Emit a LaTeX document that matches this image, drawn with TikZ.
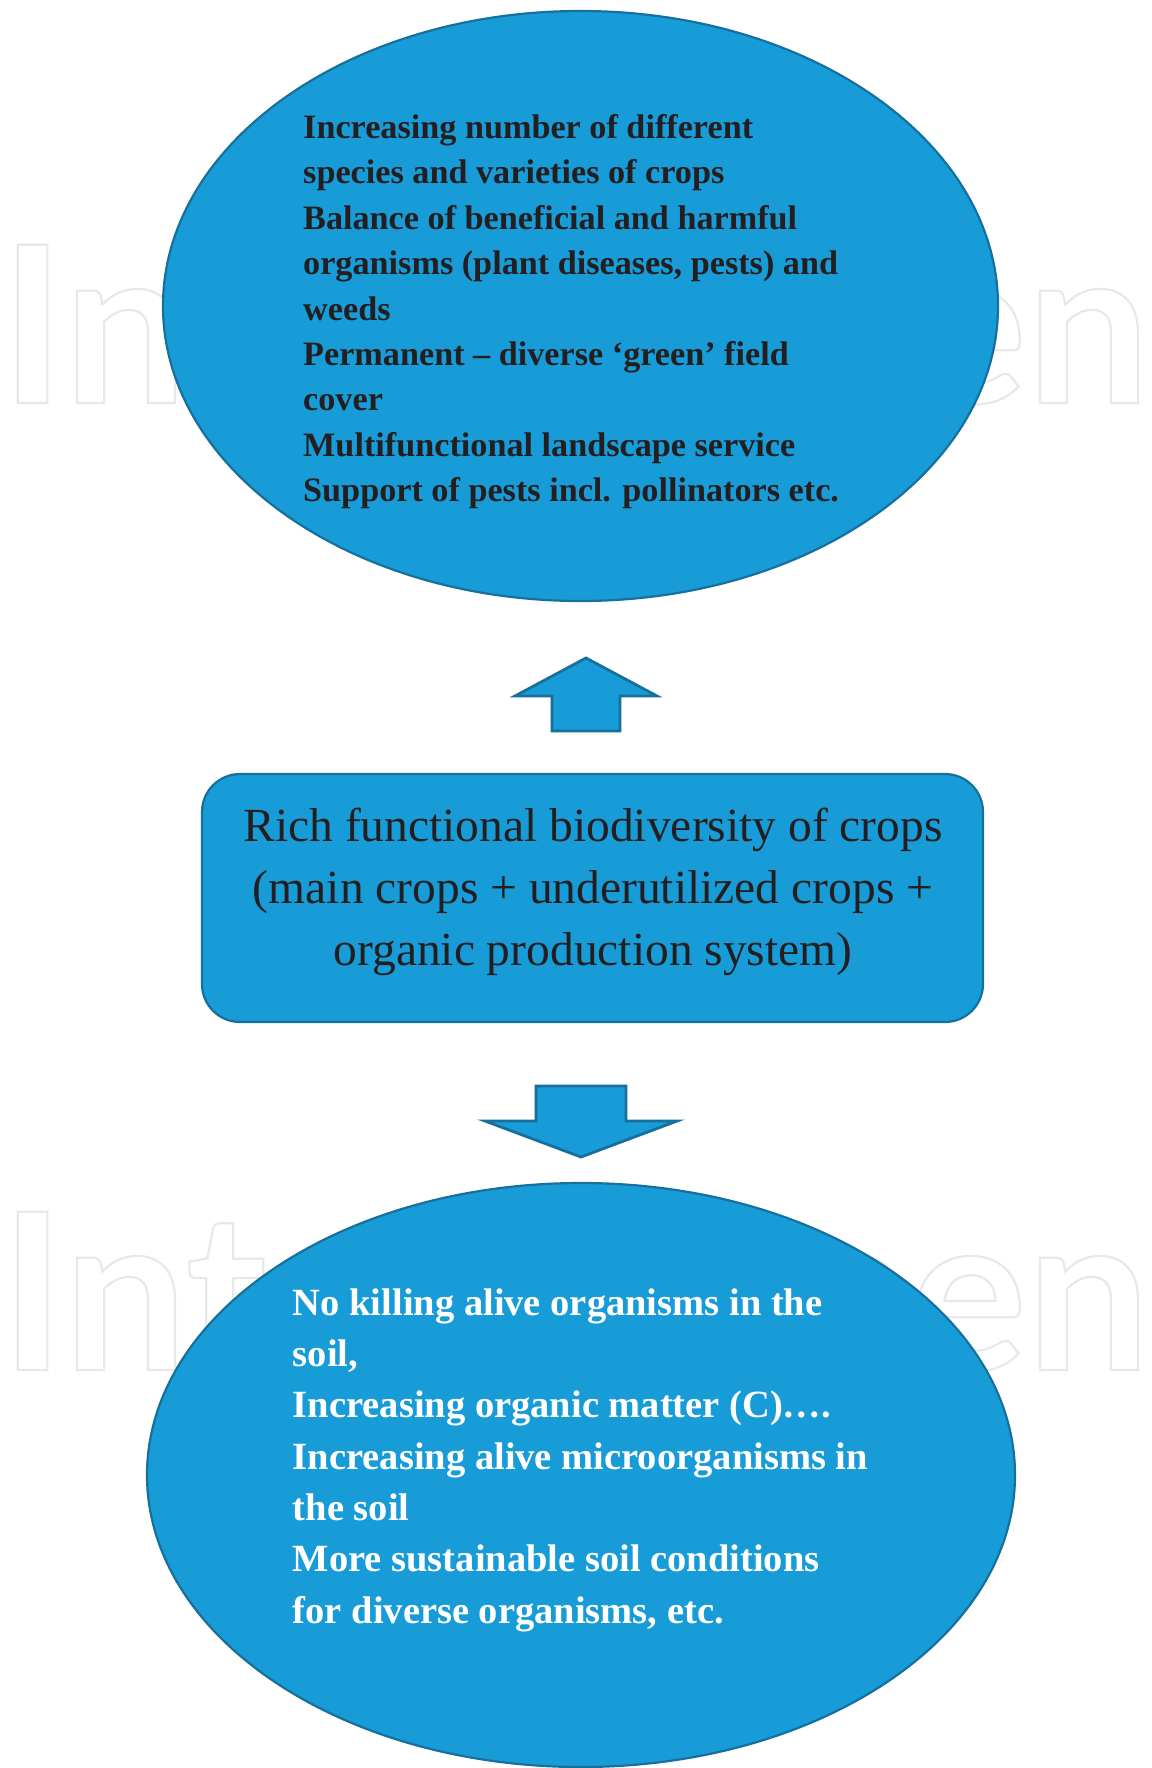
\documentclass[tikz,border=0pt]{standalone}
\usepackage{fontspec}
\setmainfont{Liberation Serif}
\newfontfamily\wmfont{Lato}
\usetikzlibrary{shapes.geometric}
\definecolor{fillblue}{RGB}{24,156,216}
\definecolor{edgeblue}{RGB}{22,112,158}
\definecolor{ink}{RGB}{35,31,32}
\definecolor{wmgray}{RGB}{232,232,232}
\newcommand\hollowtext[1]{\special{pdf:literal direct 1 Tr 2.2 w}#1\special{pdf:literal direct 0 Tr}}
\begin{document}
\begin{tikzpicture}[x=1pt,y=-1pt,
  blob/.style={draw=edgeblue,fill=fillblue,line width=2.2pt},
  blockarrow/.style={draw=edgeblue,fill=fillblue,line width=2.8pt,line join=miter},
  toptext/.style={inner sep=0pt,align=left,text=ink,font=\bfseries\fontsize{34.2}{45.4}\selectfont},
  midtext/.style={inner sep=0pt,align=center,text=ink,font=\fontsize{47.5}{61.7}\selectfont},
  bottext/.style={inner sep=0pt,align=left,text=white,font=\bfseries\fontsize{38.5}{51.3}\selectfont},
  wmark/.style={inner sep=0pt,anchor=base west,text=wmgray,font=\wmfont\bfseries\fontsize{219}{219}\selectfont}]
\useasboundingbox (0,0) rectangle (1151,1768);
\fill[white] (0,0) rectangle (1151,1768);
% watermarks
\node[wmark] (wmA) at (0,403) {\hollowtext{IntechOpen}};
\node[wmark] (wmB) at (0,1370) {\hollowtext{IntechOpen}};
% shapes
\node[blob,ellipse,minimum width=835pt,minimum height=590pt,inner sep=0pt] (top) at (580.5,306) {};
\node[blob,rectangle,rounded corners=38pt,minimum width=781pt,minimum height=248pt,inner sep=0pt] (mid) at (592.5,898) {};
\node[blob,ellipse,minimum width=868pt,minimum height=584pt,inner sep=0pt] (bot) at (581,1475) {};
% block arrows
\coordinate (uptip) at (586,658);
\coordinate (dntip) at (581,1157);
\draw[blockarrow] (uptip) -- (657,696) -- (620,696) -- (620,731) -- (552,731) -- (552,696) -- (515,696) -- cycle;
\draw[blockarrow] (536,1086) -- (626,1086) -- (626,1121) -- (677,1121) -- (dntip) -- (485,1121) -- (536,1121) -- cycle;
% texts
\node[toptext,anchor=north west] (toptxt) at (303,108.3) {\rule{0pt}{30pt}Increasing number of different\\
species and varieties of crops\\
Balance of beneficial and harmful\\
organisms (plant diseases, pests) and\\
weeds\\
Permanent – diverse ‘green’ field\\
cover\\
Multifunctional landscape service\\
Support of pests incl. pollinators etc.};
\node[midtext,anchor=north] (midtxt) at (593,801.7) {\rule{0pt}{40pt}Rich functional biodiversity of crops\\
(main crops + underutilized crops +\\
organic production system)};
\node[bottext,anchor=north west] (bottxt) at (292.7,1282) {\rule{0pt}{33pt}No killing alive organisms in the\\
soil,\\
Increasing organic matter (C)….\\
Increasing alive microorganisms in\\
the soil\\
More sustainable soil conditions\\
for diverse organisms, etc.};
\end{tikzpicture}
\end{document}
